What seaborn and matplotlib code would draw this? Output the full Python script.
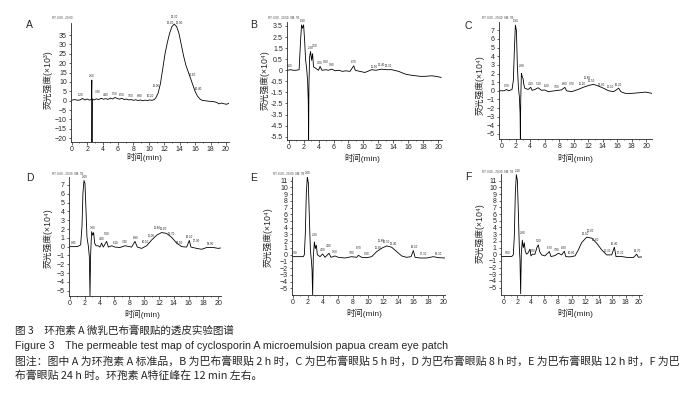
import numpy as np
import pandas as pd
import matplotlib
matplotlib.use("Agg")
import matplotlib.pyplot as plt
from matplotlib.ticker import MultipleLocator
import seaborn as sns

# ---- chromatogram traces (time in min) ----
# A: standard, intensity x10^3
a_time = [0.0, 0.4, 0.8, 1.1, 1.4, 1.7, 2.0, 2.3, 2.55, 2.6, 2.62, 2.65, 2.9, 3.2, 3.5, 3.8, 4.1, 4.4, 4.7, 5.0,
          5.3, 5.6, 5.9, 6.2, 6.5, 6.8, 7.1, 7.4, 7.7, 8.0, 8.3, 8.6, 8.9, 9.2, 9.5, 9.8, 10.1, 10.4, 10.7, 10.9,
          11.2, 11.5, 11.8, 12.1, 12.4, 12.7, 13.0, 13.3, 13.6, 13.9, 14.2, 14.5, 14.8, 15.1, 15.4, 15.7, 16.0,
          16.3, 16.6, 16.9, 17.3, 17.8, 18.3, 18.8, 19.1, 19.4, 19.7, 20.1, 20.4]
a_signal = [0.3, 0.6, 0.2, 0.5, 1.2, 0.4, 0.9, 0.3, 0.7, 11.0, -22.0, 0.9, 0.4, 1.0, 0.6, 1.3, 0.8, 1.1, 0.7, 1.4,
            0.9, 1.7, 1.2, 0.8, 1.3, 0.6, 0.9, 0.4, 0.6, 0.2, 0.5, 0.1, 0.4, 0.0, 0.3, 0.1, 0.4, 0.2, 0.6, 1.5,
            4.0, 9.0, 17.0, 25.0, 31.0, 36.0, 39.5, 40.8, 39.5, 36.0, 30.0, 24.0, 19.0, 15.5, 12.0, 8.5, 5.0,
            2.5, 1.0, 0.2, 0.0, -0.3, -0.4, -0.9, -1.7, -1.2, -1.6, -1.9, -1.3]
a_peaks = [1.2, 2.6, 3.3, 4.4, 5.5, 6.5, 7.6, 8.8, 10.2, 11.0, 12.8, 13.3, 13.9, 15.6, 16.4]

# B: 2 h, intensity x10^4 (axis drawn with uneven labels)
b_time = [-0.2, 0.3, 0.6, 1.0, 1.4, 1.6, 1.73, 1.87, 2.0, 2.13, 2.27, 2.4, 2.53, 2.62, 2.67, 2.71, 2.8, 2.93,
          3.07, 3.2, 3.33, 3.56, 4.0, 4.2, 4.45, 5.0, 5.3, 5.8, 6.2, 6.7, 7.2, 7.6, 8.2, 8.7, 8.9, 9.5, 10.2,
          11.1, 11.7, 12.4, 13.1, 13.8, 14.7, 15.6, 16.4, 17.0, 17.6, 18.2, 19.1, 19.7, 20.4]
b_signal = [0.0, 0.05, 0.0, 0.0, 0.05, 2.75, 4.1, 3.8, 4.1, 2.75, 0.9, 0.2, -0.9, -2.7, -6.3, -1.5, 1.2, 1.7,
            0.9, 1.5, 0.3, 0.2, 0.0, 0.35, 0.0, 0.05, 0.0, 0.1, -0.05, 0.0, -0.1, -0.05, -0.1, 0.4, 0.0, -0.1,
            -0.2, 0.05, 0.0, 0.1, 0.05, 0.05, -0.1, -0.35, -0.45, -0.5, -0.55, -0.55, -0.5, -0.55, -0.65]
b_tick_pos = [4, 3, 2, 1, 0, -1, -2, -3, -4, -5, -6]
b_tick_labels = ["3.5", "2.5", "1.5", "0.5", "0", "-0.5", "-1.5", "-2.5", "-3.5", "-4.5", "-5.5"]
b_peaks = [0.2, 1.9, 2.9, 3.5, 4.2, 5.0, 5.8, 8.7, 11.5, 12.4, 13.3]

# C: 5 h, x10^4
c_time = [-0.3, 0.4, 0.69, 1.0, 1.48, 1.66, 1.8, 1.94, 2.08, 2.22, 2.36, 2.49, 2.59, 2.63, 2.68, 2.77, 2.86, 3.0,
          3.09, 3.23, 3.7, 4.06, 4.25, 4.62, 5.08, 5.54, 6.0, 6.47, 7.4, 8.3, 8.78, 9.0, 9.7, 10.6, 11.3, 12.0,
          12.7, 13.4, 14.1, 14.8, 15.5, 16.2, 16.5, 17.1, 18.0, 18.7, 19.4, 19.9, 20.8]
c_signal = [0.0, 0.0, 0.15, 0.0, 0.15, 1.2, 4.7, 7.6, 7.0, 2.8, 0.4, -0.7, -2.6, -5.6, -1.1, 2.0, 1.7, 1.4,
            0.8, 0.3, 0.15, 0.4, 0.05, 0.15, 0.35, 0.05, 0.1, -0.1, 0.0, 0.1, 0.4, 0.0, -0.1, 0.15, 0.4, 0.6,
            0.75, 0.55, 0.3, 0.0, -0.1, 0.3, -0.1, -0.3, -0.3, -0.25, -0.2, -0.15, -0.3]
c_peaks = [0.7, 1.94, 2.8, 4.1, 5.1, 6.2, 7.6, 8.8, 9.7, 11.2, 11.8, 12.5, 13.8, 15.1, 16.2]

# D: 8 h, x10^4
d_time = [-0.1, 0.5, 1.0, 1.44, 1.62, 1.75, 1.89, 2.02, 2.16, 2.29, 2.47, 2.61, 2.70, 2.79, 2.92, 3.06, 3.19,
          3.33, 3.51, 3.82, 4.04, 4.27, 4.49, 4.94, 5.17, 5.62, 6.07, 6.74, 7.42, 8.31, 8.76, 9.08, 9.66, 10.34,
          11.01, 11.69, 12.36, 13.03, 13.71, 14.38, 15.06, 15.73, 16.09, 16.31, 17.08, 17.75, 18.43, 19.33,
          20.0, 20.3]
d_signal = [0.0, 0.0, 0.0, 0.2, 2.3, 6.1, 7.5, 7.2, 4.2, 1.1, 0.1, -1.1, -5.6, -0.8, 1.7, 1.3, 1.6, 0.4, 0.1,
            0.1, -0.05, 0.4, -0.05, 0.6, -0.05, 0.1, -0.05, -0.1, 0.1, -0.05, 0.6, -0.05, -0.2, 0.1, 0.75, 1.3,
            1.6, 1.5, 1.05, 0.4, 0.0, -0.05, 0.7, -0.05, -0.2, -0.3, -0.1, -0.1, -0.2, -0.15]
d_peaks = [0.45, 2.0, 3.0, 4.3, 5.0, 6.1, 7.4, 8.8, 10.1, 11.0, 11.8, 12.6, 13.7, 14.8, 16.1, 17.0, 18.9]

# E: 12 h, x10^4
e_time = [-0.1, 0.5, 1.0, 1.42, 1.55, 1.68, 1.81, 1.95, 2.08, 2.21, 2.35, 2.48, 2.57, 2.65, 2.74, 2.88, 3.01,
          3.14, 3.27, 3.63, 3.98, 4.29, 4.82, 5.09, 5.62, 6.06, 6.95, 7.83, 8.5, 8.72, 9.16, 9.82, 10.49, 11.15,
          11.81, 12.48, 13.14, 13.81, 14.47, 15.13, 15.71, 16.02, 16.24, 16.9, 17.79, 18.67, 19.34, 20.2]
e_signal = [-0.3, -0.3, -0.3, -0.3, 0.0, 3.2, 9.1, 11.6, 10.6, 5.6, 0.7, -0.8, -2.3, -6.0, -0.3, 1.9, 0.9,
            1.4, 0.0, -0.3, 0.1, -0.4, 0.2, -0.4, -0.2, -0.4, -0.5, -0.3, -0.4, -0.1, -0.4, -0.45, -0.3, 0.45,
            0.95, 1.3, 1.1, 0.45, -0.2, -0.4, -0.3, 0.6, -0.4, -0.5, -0.5, -0.3, -0.45, -0.5]
e_peaks = [0.3, 2.0, 2.9, 4.0, 4.8, 5.6, 7.8, 8.7, 9.8, 11.3, 11.8, 12.5, 13.4, 16.1, 17.3, 19.3]

# F: 24 h, x10^4
f_time = [-0.4, 0.5, 1.14, 1.38, 1.53, 1.68, 1.83, 1.98, 2.12, 2.27, 2.37, 2.47, 2.57, 2.72, 2.86, 3.01, 3.16,
          3.36, 3.6, 3.85, 4.0, 4.2, 4.59, 4.89, 5.09, 5.28, 5.58, 6.07, 6.72, 6.96, 7.56, 8.05, 8.54, 8.94,
          9.14, 9.78, 10.52, 11.01, 11.51, 12.25, 12.99, 13.73, 14.47, 15.21, 15.95, 16.35, 16.59, 17.43,
          18.42, 19.16, 19.65, 19.9, 20.4]
f_signal = [-0.35, -0.35, -0.35, -0.1, 2.6, 9.1, 11.9, 11.1, 6.6, 1.1, -0.8, -5.9, 0.15, 2.1, 1.0, 1.7, 0.4,
            0.0, 0.25, 0.75, -0.25, 0.0, 0.0, 1.05, 1.4, 0.4, -0.1, -0.25, 0.4, -0.35, -0.2, 0.15, -0.1, 0.45,
            -0.35, -0.4, -0.25, 0.65, 1.75, 2.55, 2.4, 1.65, 0.65, -0.1, -0.1, 1.05, -0.35, -0.35, -0.5, -0.5,
            0.0, -0.45, -0.4]
f_peaks = [0.5, 2.1, 2.8, 4.2, 5.2, 6.7, 7.8, 8.9, 10.0, 12.1, 12.8, 13.6, 15.3, 16.4, 17.3, 19.7]

caption_cn = "图 3　环孢素 A 微乳巴布膏眼贴的透皮实验图谱"
caption_en = "Figure 3　The permeable test map of cyclosporin A microemulsion papua cream eye patch"
note_1 = "图注：图中 A 为环孢素 A 标准品，B 为巴布膏眼贴 2 h 时，C 为巴布膏眼贴 5 h 时，D 为巴布膏眼贴 8 h 时，E 为巴布膏眼贴 12 h 时，F 为巴"
note_2 = "布膏眼贴 24 h 时。环孢素 A特征峰在 12 min 左右。"

sns.set_style("ticks")
plt.rcParams['font.family'] = ['Liberation Sans', 'Noto Sans CJK SC', 'DejaVu Sans']
plt.rcParams['axes.linewidth'] = 0.6

W, H = 687, 393
fig = plt.figure(figsize=(W / 100, H / 100), dpi=100)


def box(left, top, right, bottom):
    return [left / W, 1 - bottom / H, (right - left) / W, (bottom - top) / H]


def px(x, y):
    return x / W, 1 - y / H


panels = [
    dict(letter="A", t=a_time, s=a_signal, peaks=a_peaks, box=(71, 23, 229, 142), xlim=(-0.1, 20.4),
         ylim=(-22.0, 41.4), yticks=list(range(-20, 40, 5)), ylab=None, unit="³",
         letter_xy=(29, 25), ylab_xy=(48, 80), xlab_xy=(144, 157), rt_xy=(52, 18), rt="RT: 0.00 - 20.00"),
    dict(letter="B", t=b_time, s=b_signal, peaks=b_peaks, box=(287, 22, 442, 140), xlim=(-0.22, 20.5),
         ylim=(-6.3, 4.36), yticks=b_tick_pos, ylab=b_tick_labels, unit="⁴",
         letter_xy=(254, 25), ylab_xy=(265, 80), xlab_xy=(362, 158), rt_xy=(268, 18), rt="RT: 0.00 - 20.00  SM: 7B"),
    dict(letter="C", t=c_time, s=c_signal, peaks=c_peaks, box=(499, 22, 652, 139), xlim=(-0.32, 20.8),
         ylim=(-5.58, 7.96), yticks=list(range(-5, 8)), ylab=None, unit="⁴",
         letter_xy=(468, 26), ylab_xy=(480, 85), xlab_xy=(575, 158), rt_xy=(482, 18), rt="RT: 0.00 - 20.00  SM: 7B"),
    dict(letter="D", t=d_time, s=d_signal, peaks=d_peaks, box=(69, 177, 221, 296), xlim=(-0.13, 20.36),
         ylim=(-5.6, 7.9), yticks=list(range(-5, 8)), ylab=None, unit="⁴",
         letter_xy=(30, 178), ylab_xy=(48, 238), xlab_xy=(142, 314), rt_xy=(52, 174), rt="RT: 0.00 - 20.00  SM: 7B"),
    dict(letter="E", t=e_time, s=e_signal, peaks=e_peaks, box=(292, 177, 445, 295), xlim=(-0.09, 20.22),
         ylim=(-6.0, 11.54), yticks=list(range(-5, 12)), ylab=None, unit="⁴",
         letter_xy=(254, 178), ylab_xy=(268, 237), xlab_xy=(364, 313), rt_xy=(273, 174), rt="RT: 0.00 - 20.00  SM: 7B"),
    dict(letter="F", t=f_time, s=f_signal, peaks=f_peaks, box=(501, 174, 642, 295), xlim=(-0.44, 20.44),
         ylim=(-6.1, 12.0), yticks=list(range(-5, 12)), ylab=None, unit="⁴",
         letter_xy=(468, 177), ylab_xy=(480, 233), xlab_xy=(575, 313), rt_xy=(482, 172), rt="RT: 0.00 - 20.00  SM: 7B"),
]

for p in panels:
    ax = fig.add_axes(box(*p["box"]))
    df = pd.DataFrame({"time": p["t"], "signal": p["s"]})
    sns.lineplot(data=df, x="time", y="signal", ax=ax, color="black", linewidth=0.6,
                 sort=False, estimator=None)
    ax.set_xlim(*p["xlim"])
    ax.set_ylim(*p["ylim"])
    ax.set_xticks(range(0, 21, 2))
    ax.xaxis.set_minor_locator(MultipleLocator(1))
    ax.set_yticks(p["yticks"])
    if p["ylab"] is not None:
        ax.set_yticklabels(p["ylab"])
    ax.set_xlabel("")
    ax.set_ylabel("")
    sns.despine(ax=ax)
    ax.tick_params(axis="both", which="major", length=1.8, width=0.5, pad=1.2, labelsize=5)
    ax.tick_params(axis="x", which="minor", length=1.0, width=0.4)
    ax.patch.set_alpha(0)

    # retention time labels above peaks, staggered when crowded
    t = np.array(p["t"])
    s = np.array(p["s"])
    prev = -10
    lift = 0
    for pk in p["peaks"]:
        near = np.abs(t - pk) <= 0.35
        top = s[near].max() if near.any() else np.interp(pk, t, s)
        lift = (lift + 2.6) if pk - prev < 0.9 and lift < 2 else 0
        prev = pk
        ax.annotate(f"{pk:.2f}", (pk, top), xytext=(0, 1.2 + lift), textcoords="offset points",
                    ha="center", va="bottom", fontsize=2.1, color="#222222")

    fig.text(*px(*p["letter_xy"]), p["letter"], fontsize=7.5, ha="center", va="center")
    fig.text(*px(*p["ylab_xy"]), f"荧光强度(×10{p['unit']})", fontsize=6.3, rotation=90,
             ha="center", va="center")
    fig.text(*px(*p["xlab_xy"]), "时间(min)", fontsize=6, ha="center", va="center")
    fig.text(*px(*p["rt_xy"]), p["rt"], fontsize=2.1, ha="left", va="center", color="#444444")

cjk = ['Noto Sans CJK SC', 'DejaVu Sans']
fig.text(*px(15, 331), caption_cn, fontsize=7.6, ha="left", va="center", family=cjk)
fig.text(*px(15, 346), caption_en, fontsize=7.7, ha="left", va="center",
         family=['Liberation Sans', 'Noto Sans CJK SC'])
fig.text(*px(15, 361), note_1, fontsize=7.8, ha="left", va="center", family=cjk)
fig.text(*px(15, 376), note_2, fontsize=7.8, ha="left", va="center", family=cjk)

fig.savefig("out.png", dpi=100, facecolor="white")
